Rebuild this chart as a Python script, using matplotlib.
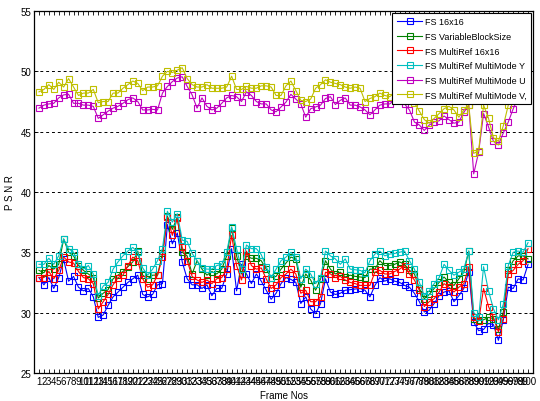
import matplotlib
matplotlib.use("Agg")
import matplotlib.pyplot as plt
import numpy as np

plt.rcParams['font.family'] = ['Liberation Sans', 'DejaVu Sans']

frames = np.arange(1, 101)

# PSNR per frame for each search method
fs_16x16 = [
    32.9, 32.3, 32.9, 32.0, 32.9, 34.4, 32.6, 33.0, 32.1, 31.8,
    32.0, 31.3, 29.6, 29.8, 30.6, 31.3, 31.7, 32.1, 32.5, 32.8,
    33.1, 31.5, 31.3, 31.5, 32.3, 32.4, 37.3, 35.7, 36.6, 34.2,
    32.8, 32.3, 32.3, 32.0, 32.3, 31.4, 32.0, 32.0, 33.2, 35.3,
    31.8, 34.0, 33.2, 32.4, 33.2, 32.6, 31.85, 31.1, 31.6, 32.4,
    32.9, 32.75, 32.5, 30.75, 31.3, 30.3, 29.9, 30.75, 32.8, 31.7,
    31.5, 31.6, 31.85, 31.9, 31.95, 32.0, 31.85, 31.3, 32.25, 32.9,
    32.6, 32.8, 32.6, 32.5, 32.25, 32.1, 31.6, 30.9, 30.05, 30.2,
    30.75, 31.4, 31.7, 31.8, 30.9, 31.4, 32.0, 33.4, 29.2, 28.5,
    28.6, 29.1, 29.0, 27.7, 29.4, 32.1, 32.0, 32.8, 32.7, 34.0]

fs_varblock = [
    33.5, 33.3, 33.9, 33.6, 34.0, 36.1, 35.0, 34.7, 33.9, 33.5,
    33.2, 32.9, 31.2, 31.6, 31.9, 32.8, 33.1, 33.4, 33.8, 34.2,
    35.1, 33.1, 32.8, 33.1, 33.1, 34.9, 38.0, 36.9, 37.9, 35.0,
    34.7, 33.2, 34.3, 33.6, 33.1, 33.4, 33.2, 33.6, 34.7, 37.0,
    34.7, 33.2, 34.7, 34.5, 34.5, 34.3, 33.6, 32.9, 33.0, 33.6,
    34.1, 34.6, 34.45, 32.1, 33.2, 32.7, 31.85, 32.8, 34.3, 33.6,
    33.2, 33.35, 32.95, 33.1, 33.0, 32.95, 32.9, 33.6, 33.6, 34.3,
    33.9, 33.9, 34.0, 34.2, 34.0, 33.5, 33.2, 32.0, 31.15, 31.5,
    32.0, 32.5, 32.95, 32.5, 32.25, 32.8, 33.35, 35.1, 29.5, 29.4,
    29.4, 29.6, 29.5, 28.6, 30.05, 33.5, 34.3, 34.7, 34.7, 34.45]

fs_multiref = [
    32.9, 32.9, 33.4, 32.8, 33.5, 34.6, 34.2, 34.1, 33.4, 32.9,
    32.8, 32.4, 30.3, 30.9, 31.5, 32.3, 32.9, 33.1, 33.9, 34.6,
    34.3, 32.8, 32.1, 32.3, 33.1, 34.6, 37.9, 36.4, 37.8, 35.4,
    34.3, 33.0, 32.7, 32.5, 32.7, 32.4, 32.8, 32.9, 33.6, 36.4,
    33.9, 32.7, 35.1, 33.9, 33.6, 33.7, 32.8, 32.0, 32.3, 32.9,
    33.2, 33.6, 33.2, 31.6, 31.85, 30.9, 30.9, 31.3, 33.35, 33.2,
    32.9, 33.0, 32.7, 32.5, 32.4, 32.25, 32.25, 32.25, 33.35, 33.5,
    33.2, 33.2, 33.4, 33.6, 33.9, 33.2, 32.7, 31.85, 30.5, 30.9,
    31.15, 31.7, 32.4, 32.1, 31.7, 32.1, 32.4, 33.8, 29.6, 29.3,
    32.0, 30.5, 29.6, 28.4, 29.5, 33.2, 33.5, 34.0, 34.3, 35.3]

fs_mm_y = [
    34.0, 34.0, 34.5, 34.0, 34.7, 36.1, 35.3, 35.0, 34.0, 33.6,
    33.9, 33.2, 31.4, 32.2, 32.5, 33.6, 34.2, 34.7, 35.1, 35.4,
    35.0, 33.7, 33.1, 33.6, 34.3, 35.3, 38.4, 37.5, 38.2, 36.0,
    35.9, 34.9, 34.3, 33.7, 33.6, 33.6, 33.9, 34.0, 35.0, 37.1,
    35.3, 33.6, 35.6, 35.3, 35.3, 34.8, 33.8, 32.9, 33.6, 34.3,
    34.6, 35.0, 34.6, 32.8, 33.6, 33.2, 32.4, 32.9, 35.1, 34.7,
    34.45, 34.0, 34.45, 33.6, 33.55, 33.5, 33.3, 34.3, 34.85, 35.1,
    34.7, 34.85, 34.9, 35.0, 35.1, 34.3, 33.6, 32.5, 31.4, 31.8,
    32.4, 32.9, 34.0, 33.5, 33.1, 33.35, 33.6, 35.1, 30.0, 29.6,
    33.8, 31.8, 30.3, 29.4, 30.7, 33.9, 35.0, 35.1, 35.0, 35.8]

fs_mm_u = [
    46.95, 47.2, 47.3, 47.35, 47.8, 48.05, 48.1, 47.35, 47.35, 47.2,
    47.2, 47.1, 46.1, 46.4, 46.7, 46.95, 47.1, 47.35, 47.65, 47.8,
    47.5, 46.8, 46.8, 46.85, 46.8, 48.2, 48.75, 49.15, 49.45, 49.55,
    48.75, 48.05, 46.95, 47.8, 47.1, 46.8, 46.95, 47.35, 47.8, 48.0,
    47.9, 47.5, 48.3, 48.0, 47.5, 47.3, 47.3, 46.8, 46.65, 47.05,
    47.45, 48.1, 47.7, 47.3, 46.2, 46.9, 47.05, 47.2, 47.75, 47.9,
    47.25, 47.6, 47.8, 47.2, 47.2, 47.05, 46.8, 46.4, 46.8, 47.2,
    47.3, 47.3, 47.6, 47.7, 47.3, 46.8, 45.8, 45.55, 45.1, 45.55,
    45.8, 45.9, 46.3, 46.0, 45.7, 45.8, 46.6, 47.2, 41.5, 43.3,
    46.5, 45.4, 44.2, 43.9, 44.9, 45.8, 46.9, 47.8, 48.5, 48.9]

fs_mm_v = [
    48.3, 48.5, 48.9, 48.5, 49.1, 48.7, 49.4, 48.7, 48.0, 48.2,
    48.2, 48.5, 47.4, 47.5, 47.5, 48.2, 48.2, 48.6, 48.9, 49.2,
    49.0, 48.4, 48.7, 48.7, 48.8, 49.6, 50.0, 49.9, 50.1, 50.3,
    49.4, 48.9, 48.7, 48.7, 48.9, 48.6, 48.6, 48.6, 48.7, 49.6,
    48.5, 48.5, 48.75, 48.6, 48.6, 48.8, 48.8, 48.7, 48.0, 48.0,
    48.8, 49.2, 48.4, 47.6, 47.5, 47.7, 48.6, 48.9, 49.3, 49.1,
    49.0, 48.9, 48.7, 48.6, 48.7, 48.6, 47.5, 47.75, 47.9, 48.2,
    48.0, 47.9, 48.2, 48.4, 48.3, 48.0, 47.4, 46.7, 46.0, 45.7,
    46.1, 46.5, 46.9, 47.1, 46.8, 46.2, 46.8, 47.2, 43.2, 43.4,
    47.2, 46.1, 44.5, 44.2, 45.5, 47.2, 48.0, 48.5, 49.0, 49.3]

series = [
    (fs_16x16, (0, 0, 1), 'FS 16x16'),
    (fs_varblock, (0, 0.5, 0), 'FS VariableBlockSize'),
    (fs_multiref, (1, 0, 0), 'FS MultiRef 16x16'),
    (fs_mm_y, (0, 0.75, 0.75), 'FS MultiRef MultiMode Y'),
    (fs_mm_u, (0.75, 0, 0.75), 'FS MultiRef MultiMode U'),
    (fs_mm_v, (0.75, 0.75, 0), 'FS MultiRef MultiMode V,'),
]

fig = plt.figure(figsize=(5.4, 4.02), dpi=100)
ax = fig.add_axes([0.063, 0.07, 0.924, 0.90])

for vals, col, name in series:
    ax.plot(frames, vals, color=col, lw=0.8, marker='s', markersize=4.6,
            markerfacecolor='none', markeredgecolor=col, markeredgewidth=0.8,
            label=name)

ax.set_xlim(0, 101)
ax.set_ylim(25, 55)
ax.set_xticks(frames)
ax.set_xticklabels([str(f) for f in frames], fontsize=7)
ax.set_yticks([25, 30, 35, 40, 45, 50, 55])
ax.tick_params(axis='both', direction='in', length=3, width=0.6,
               top=True, right=True, labelsize=7, pad=2)
ax.yaxis.grid(True, color='black', linestyle=(0, (3, 3)), linewidth=0.7)
ax.set_axisbelow(True)
for sp in ax.spines.values():
    sp.set_linewidth(0.9)

ax.set_xlabel('Frame Nos', fontsize=7, labelpad=3)
ax.set_ylabel('P S N R', fontsize=7, labelpad=4)

leg = ax.legend(loc='upper right', fontsize=6.5, fancybox=False,
                framealpha=1, edgecolor='black', borderpad=0.5,
                handlelength=2.8, labelspacing=0.62, handletextpad=0.3,
                borderaxespad=0.2)
leg.get_frame().set_linewidth(0.8)

fig.savefig('out.png', dpi=100)
